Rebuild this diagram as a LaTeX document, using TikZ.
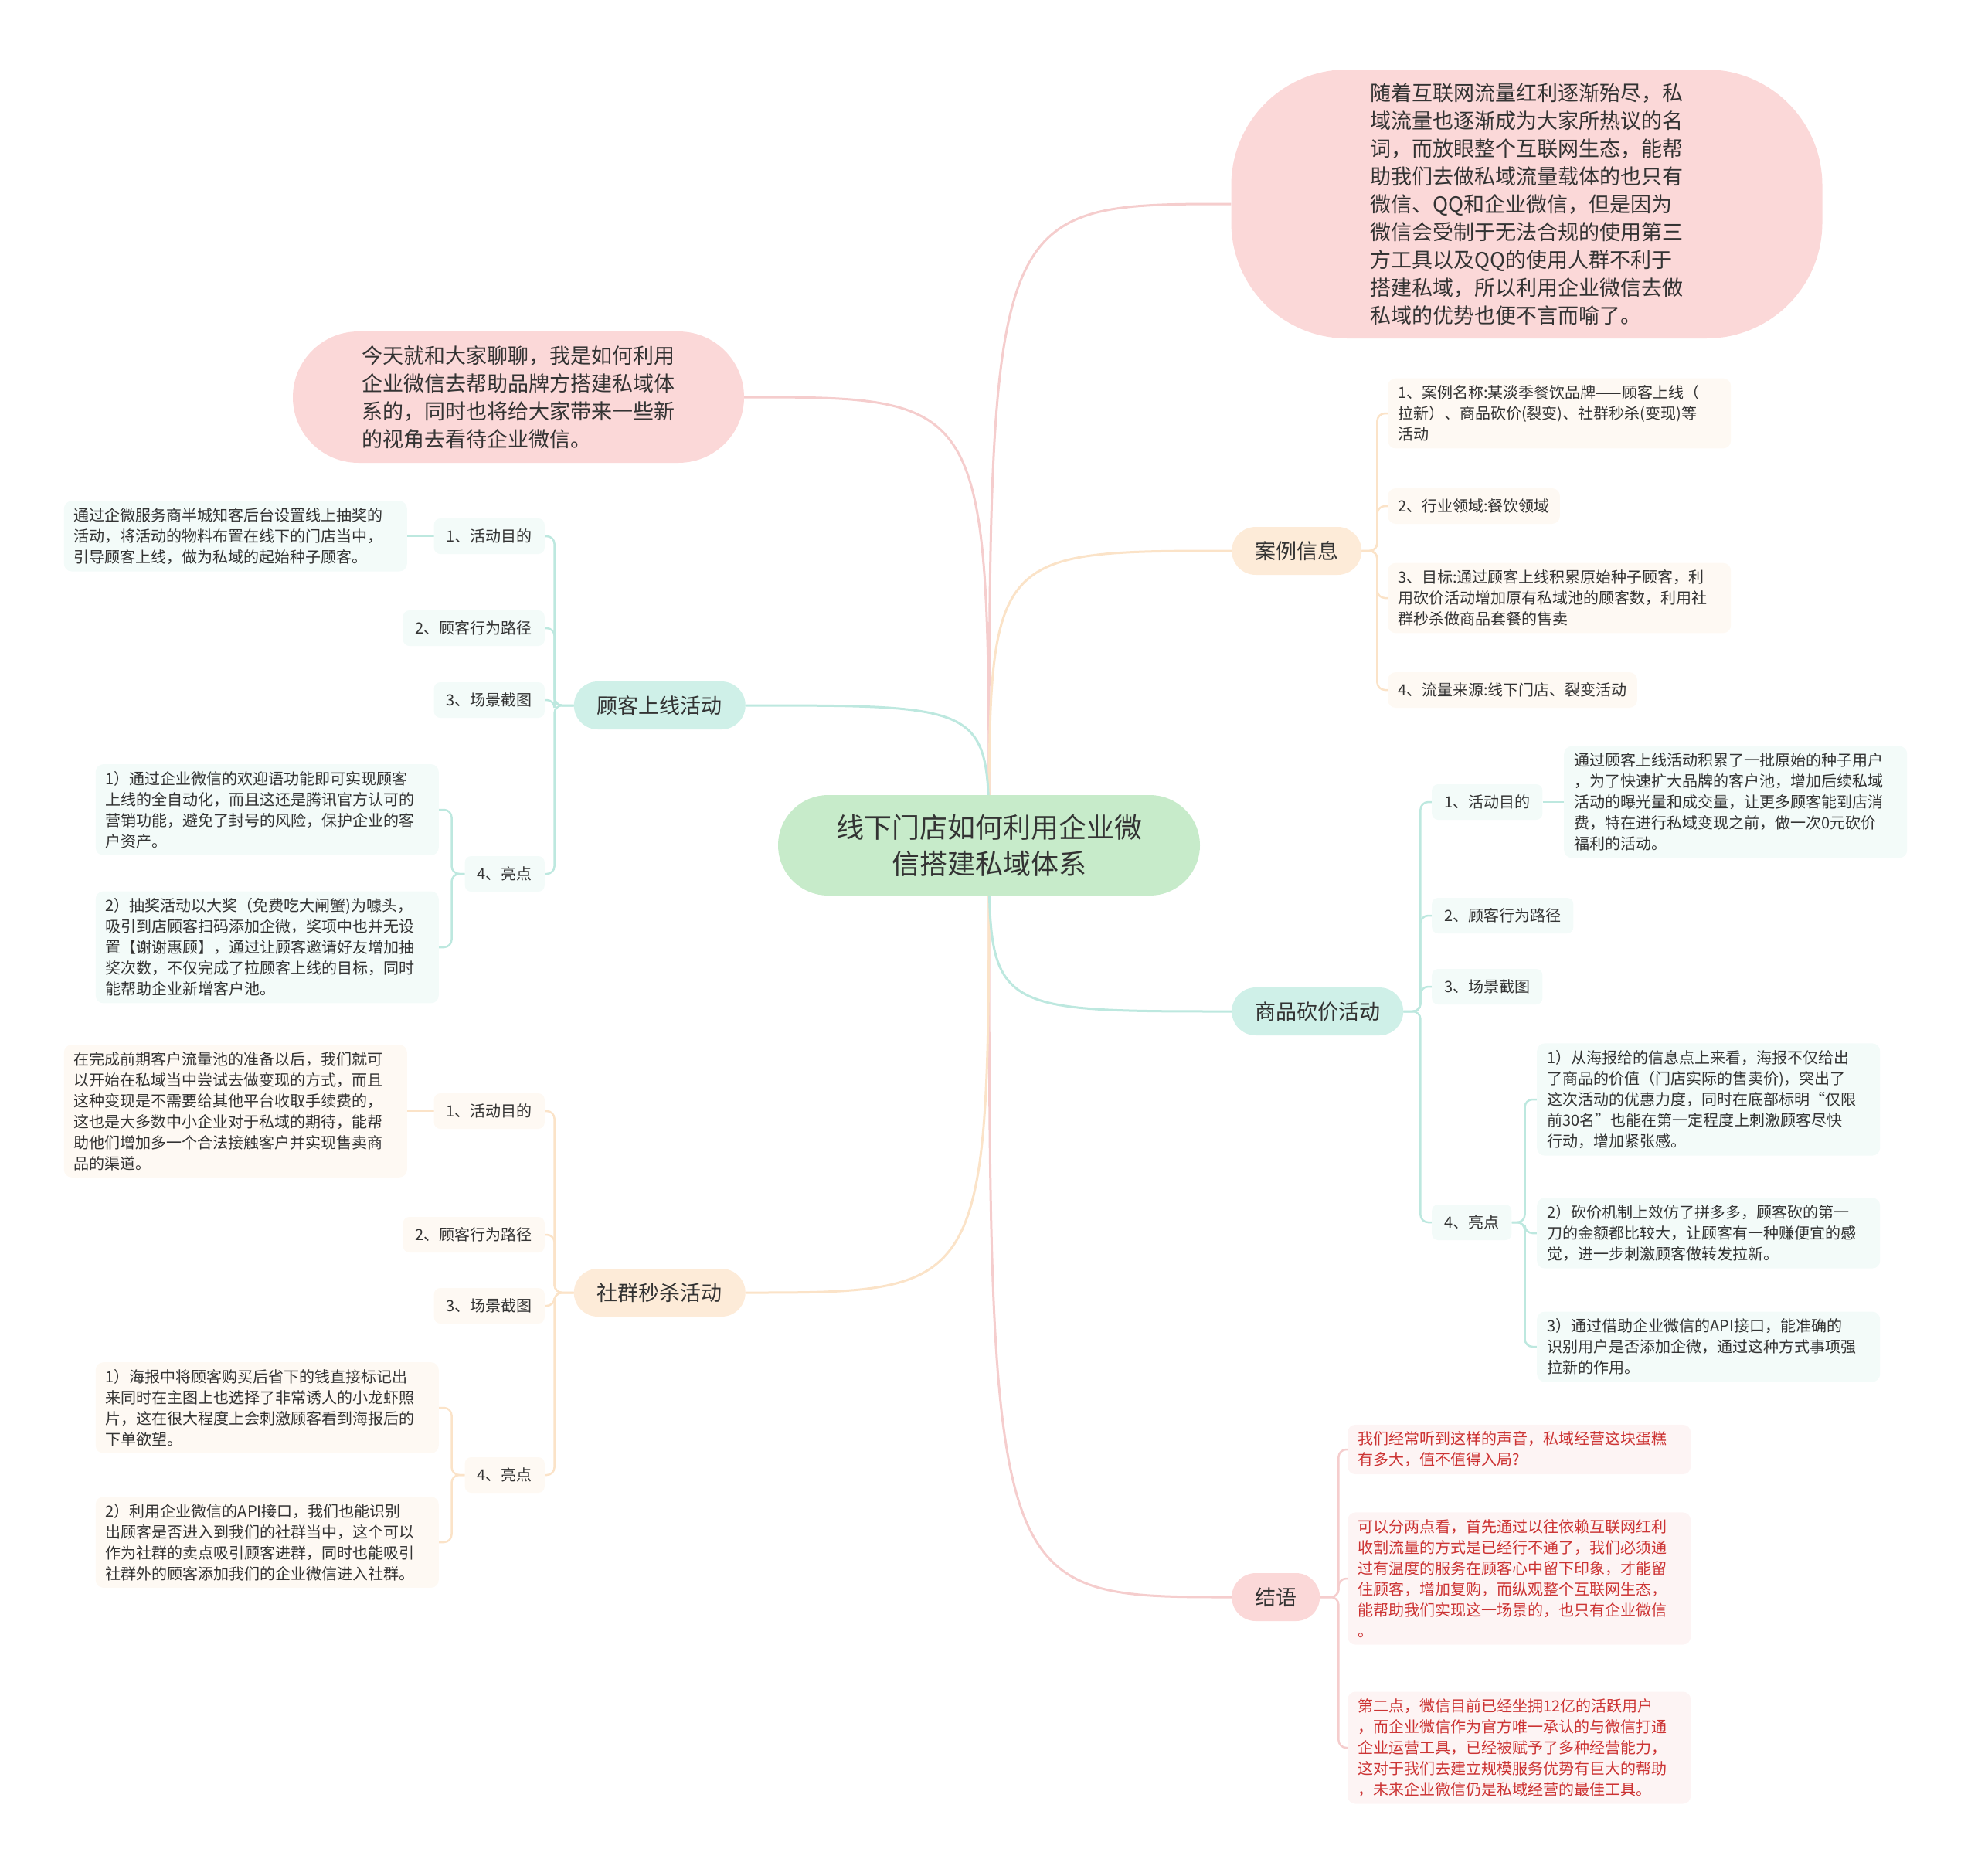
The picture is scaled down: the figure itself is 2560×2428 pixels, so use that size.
\documentclass[tikz,border=0pt]{standalone}
\usepackage{fontspec}
\setmainfont{Noto Sans CJK SC}
\usetikzlibrary{calc}
\definecolor{txt}{HTML}{333333}
\definecolor{rootfill}{HTML}{C7EBCA}
\definecolor{pinkfill}{HTML}{FBD8D8}
\definecolor{pinkline}{HTML}{F5CDCD}
\definecolor{pinklight}{HTML}{FDF4F4}
\definecolor{peachfill}{HTML}{FDEBD8}
\definecolor{peachline}{HTML}{FBE3C8}
\definecolor{peachlight}{HTML}{FEF9F3}
\definecolor{tealfill}{HTML}{CFF0E8}
\definecolor{tealline}{HTML}{BDE8DF}
\definecolor{teallight}{HTML}{F3FBF9}
\definecolor{redtxt}{HTML}{CC3333}
\pgfdeclarelayer{bg}\pgfsetlayers{bg,main}
\tikzset{
 rootbox/.style={fill=rootfill, rounded corners=65pt, minimum width=546pt, minimum height=130pt, align=center, font=\fontsize{36}{47}\selectfont},
 bigbox/.style={fill=pinkfill, align=left, font=\fontsize{27}{36}\selectfont},
 midbox/.style={rounded corners=31pt, minimum height=62pt, inner xsep=30pt, font=\fontsize{27}{36}\selectfont},
 lbl/.style={rounded corners=8pt, minimum height=46pt, inner xsep=16pt, font=\fontsize{20}{27}\selectfont},
 detail/.style={rounded corners=10pt, inner xsep=13pt, inner ysep=9pt, minimum height=46pt, align=left, font=\fontsize{20}{27}\selectfont},
 wide/.style={text width=418pt},
 rootedge/.style={line width=3pt},
 subedge/.style={line width=2.5pt, rounded corners=10pt},
}
\begin{document}
\begin{tikzpicture}[x=1pt,y=-1pt, every node/.append style={text=txt}]
\useasboundingbox (0,0) rectangle (2560,2428);

% root
\node[rootbox] (root) at (1280,1094) {线下门店如何利用企业微\\信搭建私域体系};

% big pink nodes
\node[bigbox, rounded corners=150pt, minimum width=765pt, minimum height=348pt] (intro) at (1976,264)
 {随着互联网流量红利逐渐殆尽，私\\域流量也逐渐成为大家所热议的名\\词，而放眼整个互联网生态，能帮\\助我们去做私域流量载体的也只有\\微信、QQ和企业微信，但是因为\\微信会受制于无法合规的使用第三\\方工具以及QQ的使用人群不利于\\搭建私域，所以利用企业微信去做\\私域的优势也便不言而喻了。};
\node[bigbox, rounded corners=85pt, minimum width=584pt, minimum height=170pt] (today) at (671,514)
 {今天就和大家聊聊，我是如何利用\\企业微信去帮助品牌方搭建私域体\\系的，同时也将给大家带来一些新\\的视角去看待企业微信。};

% main branches
\node[midbox, fill=peachfill, anchor=west] (case) at (1594,713) {案例信息};
\node[midbox, fill=tealfill, anchor=west] (bargain) at (1594,1309) {商品砍价活动};
\node[midbox, fill=pinkfill, anchor=west] (concl) at (1594,2067) {结语};
\node[midbox, fill=tealfill, anchor=east] (online) at (965,913) {顾客上线活动};
\node[midbox, fill=peachfill, anchor=east] (flash) at (965,1673) {社群秒杀活动};

% case info
\node[detail, wide, fill=peachlight, anchor=west] (c1) at (1796,535) {1、案例名称:某淡季餐饮品牌——顾客上线（\\拉新）、商品砍价(裂变)、社群秒杀(变现)等\\活动};
\node[detail, fill=peachlight, anchor=west] (c2) at (1796,655) {2、行业领域:餐饮领域};
\node[detail, wide, fill=peachlight, anchor=west] (c3) at (1796,774) {3、目标:通过顾客上线积累原始种子顾客，利\\用砍价活动增加原有私域池的顾客数，利用社\\群秒杀做商品套餐的售卖};
\node[detail, fill=peachlight, anchor=west] (c4) at (1796,893) {4、流量来源:线下门店、裂变活动};

% bargain
\node[lbl, fill=teallight, anchor=west] (b1) at (1853,1038) {1、活动目的};
\node[lbl, fill=teallight, anchor=west] (b2) at (1853,1185) {2、顾客行为路径};
\node[lbl, fill=teallight, anchor=west] (b3) at (1853,1277) {3、场景截图};
\node[lbl, fill=teallight, anchor=west] (b4) at (1853,1582) {4、亮点};
\node[detail, wide, fill=teallight, anchor=west] (b1d) at (2024,1038) {通过顾客上线活动积累了一批原始的种子用户\\，为了快速扩大品牌的客户池，增加后续私域\\活动的曝光量和成交量，让更多顾客能到店消\\费，特在进行私域变现之前，做一次0元砍价\\福利的活动。};
\node[detail, wide, fill=teallight, anchor=west] (b4a) at (1989,1423) {1）从海报给的信息点上来看，海报不仅给出\\了商品的价值（门店实际的售卖价)，突出了\\这次活动的优惠力度，同时在底部标明“仅限\\前30名”也能在第一定程度上刺激顾客尽快\\行动，增加紧张感。};
\node[detail, wide, fill=teallight, anchor=west] (b4b) at (1989,1596) {2）砍价机制上效仿了拼多多，顾客砍的第一\\刀的金额都比较大，让顾客有一种赚便宜的感\\觉，进一步刺激顾客做转发拉新。};
\node[detail, wide, fill=teallight, anchor=west] (b4c) at (1989,1743) {3）通过借助企业微信的API接口，能准确的\\识别用户是否添加企微，通过这种方式事项强\\拉新的作用。};

% online
\node[lbl, fill=teallight, anchor=east] (o1) at (705,694) {1、活动目的};
\node[lbl, fill=teallight, anchor=east] (o2) at (705,813) {2、顾客行为路径};
\node[lbl, fill=teallight, anchor=east] (o3) at (705,906) {3、场景截图};
\node[lbl, fill=teallight, anchor=east] (o4) at (705,1131) {4、亮点};
\node[detail, wide, fill=teallight, anchor=east] (o1d) at (527,694) {通过企微服务商半城知客后台设置线上抽奖的\\活动，将活动的物料布置在线下的门店当中，\\引导顾客上线，做为私域的起始种子顾客。};
\node[detail, wide, fill=teallight, anchor=east] (o4a) at (568,1048) {1）通过企业微信的欢迎语功能即可实现顾客\\上线的全自动化，而且这还是腾讯官方认可的\\营销功能，避免了封号的风险，保护企业的客\\户资产。};
\node[detail, wide, fill=teallight, anchor=east] (o4b) at (568,1226) {2）抽奖活动以大奖（免费吃大闸蟹)为噱头，\\吸引到店顾客扫码添加企微，奖项中也并无设\\置【谢谢惠顾】，通过让顾客邀请好友增加抽\\奖次数，不仅完成了拉顾客上线的目标，同时\\能帮助企业新增客户池。};

% flash sale
\node[lbl, fill=peachlight, anchor=east] (f1) at (705,1438) {1、活动目的};
\node[lbl, fill=peachlight, anchor=east] (f2) at (705,1598) {2、顾客行为路径};
\node[lbl, fill=peachlight, anchor=east] (f3) at (705,1690) {3、场景截图};
\node[lbl, fill=peachlight, anchor=east] (f4) at (705,1909) {4、亮点};
\node[detail, wide, fill=peachlight, anchor=east] (f1d) at (527,1438) {在完成前期客户流量池的准备以后，我们就可\\以开始在私域当中尝试去做变现的方式，而且\\这种变现是不需要给其他平台收取手续费的，\\这也是大多数中小企业对于私域的期待，能帮\\助他们增加多一个合法接触客户并实现售卖商\\品的渠道。};
\node[detail, wide, fill=peachlight, anchor=east] (f4a) at (568,1822) {1）海报中将顾客购买后省下的钱直接标记出\\来同时在主图上也选择了非常诱人的小龙虾照\\片，这在很大程度上会刺激顾客看到海报后的\\下单欲望。};
\node[detail, wide, fill=peachlight, anchor=east] (f4b) at (568,1996) {2）利用企业微信的API接口，我们也能识别\\出顾客是否进入到我们的社群当中，这个可以\\作为社群的卖点吸引顾客进群，同时也能吸引\\社群外的顾客添加我们的企业微信进入社群。};

% conclusion
\node[detail, wide, fill=pinklight, anchor=west, text=redtxt] (j1) at (1744,1876) {我们经常听到这样的声音，私域经营这块蛋糕\\有多大，值不值得入局?};
\node[detail, wide, fill=pinklight, anchor=west, text=redtxt] (j2) at (1744,2043) {可以分两点看，首先通过以往依赖互联网红利\\收割流量的方式是已经行不通了，我们必须通\\过有温度的服务在顾客心中留下印象，才能留\\住顾客，增加复购，而纵观整个互联网生态，\\能帮助我们实现这一场景的，也只有企业微信\\。};
\node[detail, wide, fill=pinklight, anchor=west, text=redtxt] (j3) at (1744,2262) {第二点，微信目前已经坐拥12亿的活跃用户\\，而企业微信作为官方唯一承认的与微信打通\\企业运营工具，已经被赋予了多种经营能力，\\这对于我们去建立规模服务优势有巨大的帮助\\，未来企业微信仍是私域经营的最佳工具。};

\begin{pgfonlayer}{bg}
 % root-level curves
 \draw[rootedge, pinkline] (root.center) .. controls (root.center |- intro.west) .. (intro.west);
 \draw[rootedge, pinkline] (root.center) .. controls (root.center |- today.east) .. (today.east);
 \draw[rootedge, pinkline] (root.center) .. controls (root.center |- concl.west) .. (concl.west);
 \draw[rootedge, peachline] (root.center) .. controls (root.center |- case.west) .. (case.west);
 \draw[rootedge, peachline] (root.center) .. controls (root.center |- flash.east) .. (flash.east);
 \draw[rootedge, tealline] (root.center) .. controls (root.center |- online.east) .. (online.east);
 \draw[rootedge, tealline] (root.center) .. controls (root.center |- bargain.west) .. (bargain.west);
 % brackets
 \foreach \c in {c1,c2,c3,c4}
  \draw[subedge, peachline] (case.east) -- ($(case.east)+(20,0)$) |- (\c.west);
 \foreach \c in {b1,b2,b3,b4}
  \draw[subedge, tealline] (bargain.east) -- ($(bargain.east)+(22,0)$) |- (\c.west);
 \draw[subedge, tealline] (b1.east) -- (b1d.west);
 \foreach \c in {b4a,b4b,b4c}
  \draw[subedge, tealline] (b4.east) -- ($(b4.east)+(17,0)$) |- (\c.west);
 \foreach \c in {o1,o2,o3,o4}
  \draw[subedge, tealline] (online.west) -- ($(online.west)+(-25,0)$) |- (\c.east);
 \draw[subedge, tealline] (o1.west) -- (o1d.east);
 \foreach \c in {o4a,o4b}
  \draw[subedge, tealline] (o4.west) -- ($(o4.west)+(-17,0)$) |- (\c.east);
 \foreach \c in {f1,f2,f3,f4}
  \draw[subedge, peachline] (flash.west) -- ($(flash.west)+(-25,0)$) |- (\c.east);
 \draw[subedge, peachline] (f1.west) -- (f1d.east);
 \foreach \c in {f4a,f4b}
  \draw[subedge, peachline] (f4.west) -- ($(f4.west)+(-17,0)$) |- (\c.east);
 \foreach \c in {j1,j2,j3}
  \draw[subedge, pinkline] (concl.east) -- ($(concl.east)+(24,0)$) |- (\c.west);
\end{pgfonlayer}
\end{tikzpicture}
\end{document}
